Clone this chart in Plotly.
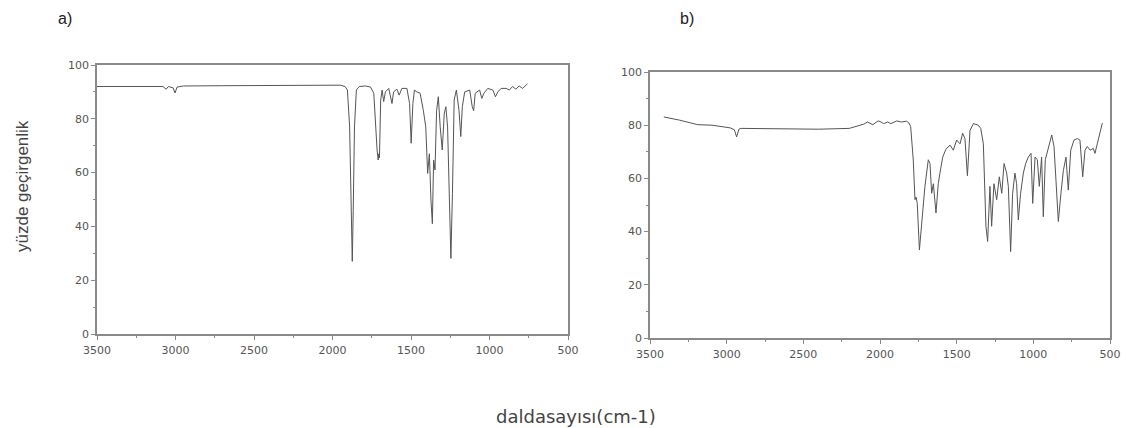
import plotly.graph_objects as go

# ---- data ----
a_wavenumber = [3500, 3300, 3150, 3080, 3060, 3045, 3015, 3003, 2990, 2950, 2700, 2400, 2100, 1950,
                1920, 1905, 1891, 1880, 1874, 1868, 1860, 1848, 1830, 1790, 1758, 1737, 1726, 1716,
                1709, 1705, 1701, 1697, 1693, 1684, 1674, 1663, 1642, 1621, 1611, 1590, 1575, 1558,
                1526, 1509, 1499, 1488, 1478, 1463, 1442, 1421, 1406, 1394, 1383, 1373, 1364, 1356,
                1347, 1337, 1326, 1314, 1301, 1288, 1278, 1267, 1257, 1246, 1236, 1225, 1211, 1194,
                1183, 1173, 1158, 1126, 1110, 1101, 1091, 1063, 1049, 1036, 1011, 979, 962, 947, 926,
                895, 874, 853, 832, 811, 789, 768, 758]
a_transmittance = [92.0, 92.0, 92.2, 92.0, 91.0, 92.0, 91.5, 89.6, 91.8, 92.2, 92.3, 92.4, 92.6, 92.5,
                   92.0, 90.7, 77, 46, 27, 46, 77, 90.7, 92, 92.2, 91.8, 89.5, 77, 68.4,
                   64.7, 67, 65.5, 75, 87, 90.7, 86.4, 90, 91.3, 85.7, 90, 91, 88.8, 91.3,
                   91.3, 85.7, 70.9, 85.7, 90.7, 90, 89.5, 83, 77, 59.7, 67, 49.8, 41, 64.7,
                   61, 83, 88.2, 77, 68.4, 82, 84.5, 77, 52.3, 28.1, 52.3, 87, 90.7, 83,
                   73.4, 84.5, 90, 90.7, 84.5, 83, 89.5, 90.7, 87.6, 89.5, 91.3, 90.7, 88.2, 90, 91.3,
                   91.3, 90.7, 92, 91, 92.2, 91.3, 92.6, 93]

b_wavenumber = [3410, 3307, 3189, 3095, 2977, 2950, 2935, 2920, 2907, 2600, 2400, 2200, 2130, 2106,
                2082, 2065, 2047, 2012, 2000, 1976, 1950, 1929, 1891, 1860, 1826, 1811, 1800, 1783,
                1772, 1765, 1757, 1743, 1728, 1707, 1685, 1674, 1663, 1652, 1635, 1620, 1609, 1591,
                1570, 1543, 1522, 1500, 1478, 1461, 1446, 1430, 1413, 1391, 1359, 1343, 1326, 1309,
                1298, 1283, 1272, 1257, 1239, 1222, 1206, 1191, 1174, 1163, 1148, 1135, 1120, 1109,
                1098, 1083, 1065, 1050, 1033, 1015, 1004, 989, 974, 961, 946, 935, 922, 902, 880,
                865, 848, 837, 820, 804, 787, 772, 756, 735, 713, 696, 678, 663, 648, 630, 609,
                598, 583, 565, 550]
b_transmittance = [83.1, 81.9, 80.2, 80, 79, 78.3, 75.6, 78.5, 78.8, 78.6, 78.5, 78.8, 80.2, 80.4,
                   81.2, 80.8, 80.2, 81.6, 81.4, 80.6, 81.2, 80.6, 81.6, 81.2, 81.5, 80.8, 79.5, 66.9,
                   52, 53, 50.6, 33.1, 42, 57, 67, 65.6, 54.4, 58, 47, 58, 62, 68,
                   71, 72.5, 70.6, 74.4, 73, 77, 75, 61, 78, 80.6, 80, 78.8, 73, 42,
                   36.3, 57, 42, 58, 52, 60.6, 54.4, 65.6, 62, 57, 32.5, 54.4, 62, 58,
                   44.4, 54.4, 62, 65.6, 68, 69.4, 50.6, 68, 67, 57, 68, 45.6, 67, 72, 76.3,
                   72, 54.4, 43.8, 54.4, 63, 68, 55.6, 70.6, 74.4, 75, 74.4, 60.6, 70.6, 72, 70.6, 71.3,
                   69.4, 73, 77, 80.8]

x_ticks = [3500, 3000, 2500, 2000, 1500, 1000, 500]
y_ticks = [0, 20, 40, 60, 80, 100]
panel_labels = ["a)", "b)"]
x_title = "daldasayısı(cm-1)"
y_title = "yüzde geçirgenlik"

# ---- figure ----
W, H = 1126, 428


def px(x):
    return x / W


def py(y):
    return 1 - y / H


LINE = "#555555"
AXIS = "#8a8a8a"
TICKFONT = dict(family="DejaVu Sans", size=11, color="#555555")

fig = go.Figure()
fig.add_trace(go.Scatter(x=a_wavenumber, y=a_transmittance, mode="lines",
                         line=dict(color=LINE, width=1), xaxis="x", yaxis="y",
                         showlegend=False, hoverinfo="skip"))
fig.add_trace(go.Scatter(x=b_wavenumber, y=b_transmittance, mode="lines",
                         line=dict(color=LINE, width=1), xaxis="x2", yaxis="y2",
                         showlegend=False, hoverinfo="skip"))


def xaxis_cfg(domain, anchor):
    return dict(domain=domain, anchor=anchor, range=[3500, 500], tickmode="array",
                tickvals=x_ticks, ticks="outside", ticklen=4, tickwidth=1, tickcolor=AXIS,
                minor=dict(dtick=250, ticks="outside", ticklen=2, tickcolor=AXIS, showgrid=False),
                showline=True, linecolor=AXIS, linewidth=1.5, mirror=True, automargin=False,
                showgrid=False, zeroline=False, tickfont=TICKFONT, ticklabelstandoff=1)


def yaxis_cfg(domain, anchor):
    return dict(domain=domain, anchor=anchor, range=[0, 100], tickmode="array",
                tickvals=y_ticks, ticks="outside", ticklen=4, tickwidth=1, tickcolor=AXIS,
                minor=dict(dtick=10, ticks="outside", ticklen=2, tickcolor=AXIS, showgrid=False),
                showline=True, linecolor=AXIS, linewidth=1.5, mirror=True, automargin=False,
                showgrid=False, zeroline=False, tickfont=TICKFONT)


def note(text, x, y, font, angle=0):
    return dict(text=text, x=px(x), y=py(y), xref="paper", yref="paper", showarrow=False,
                xanchor="center", yanchor="middle", textangle=angle, font=font)


fig.update_layout(
    width=W, height=H,
    margin=dict(l=0, r=0, t=0, b=0, pad=0),
    paper_bgcolor="white", plot_bgcolor="white",
    xaxis=xaxis_cfg([px(97), px(568)], "y"),
    yaxis=yaxis_cfg([py(334), py(65)], "x"),
    xaxis2=xaxis_cfg([px(650), px(1110)], "y2"),
    yaxis2=yaxis_cfg([py(338), py(72)], "x2"),
    annotations=[
        note(panel_labels[0], 65, 19, dict(family="Liberation Sans", size=16, color="#222222")),
        note(panel_labels[1], 687, 19, dict(family="Liberation Sans", size=16, color="#222222")),
        note(x_title, 576, 416, dict(family="DejaVu Sans", size=18, color="#444444")),
        note(y_title, 22, 186, dict(family="Liberation Sans", size=17, color="#444444"), angle=-90),
    ],
)

# remove the browser's default 8px body margin so the figure fills the window exactly
fig.write_html("out.html", config={"displayModeBar": False},
               post_script="document.body.style.margin='0';document.body.style.overflow='hidden';")
